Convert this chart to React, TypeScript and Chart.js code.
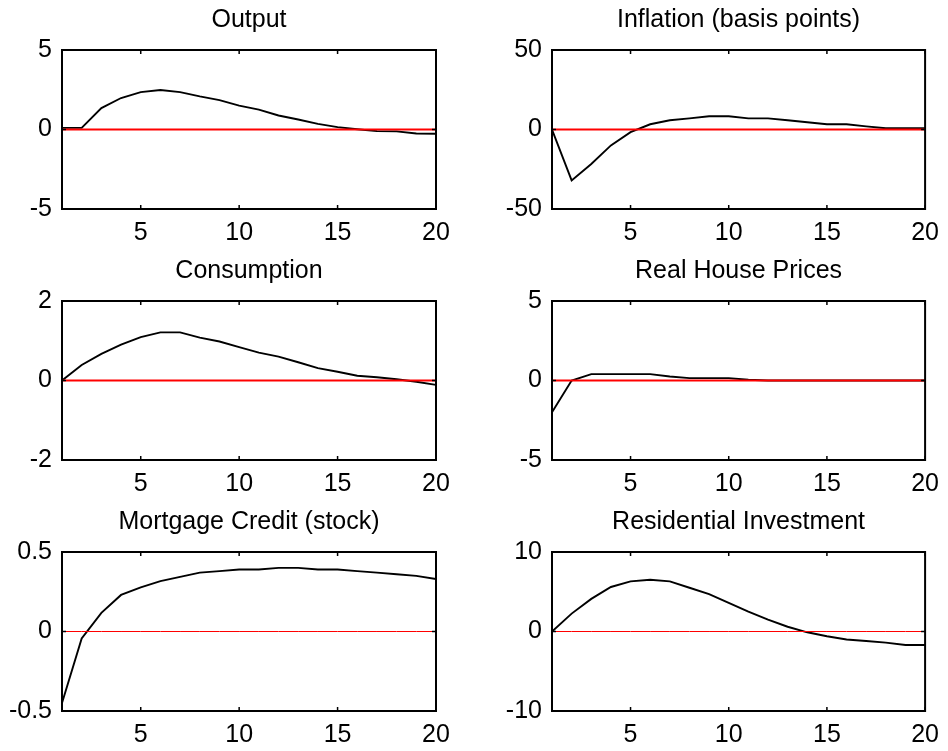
import React, { useEffect, useRef } from "react";
import { Chart, registerables } from "chart.js";

Chart.register(...registerables);

// ---- data ----
const periods = [1, 2, 3, 4, 5, 6, 7, 8, 9, 10, 11, 12, 13, 14, 15, 16, 17, 18, 19, 20];
const xTickValues = [5, 10, 15, 20];

const outputVals = [0.1, 0.1, 1.35, 1.98, 2.35, 2.48, 2.35, 2.08, 1.85, 1.5, 1.25, 0.88, 0.63, 0.35, 0.15, 0.02, -0.1, -0.12, -0.25, -0.27];
const inflationVals = [0, -32, -21.7, -10, -1.7, 3.3, 5.8, 7, 8.3, 8.3, 7, 7, 5.8, 4.6, 3.3, 3.3, 2, 0.8, 0.8, 0.8];
const consumptionVals = [0, 0.39, 0.67, 0.9, 1.09, 1.21, 1.21, 1.08, 0.98, 0.84, 0.7, 0.6, 0.46, 0.31, 0.22, 0.12, 0.08, 0.03, -0.03, -0.11];
const housePriceVals = [-2.0, 0.0, 0.4, 0.4, 0.4, 0.4, 0.25, 0.15, 0.15, 0.15, 0.05, 0, 0, 0, 0, 0, 0, 0, 0, 0];
const mortgageVals = [-0.45, -0.044, 0.117, 0.23, 0.277, 0.317, 0.344, 0.37, 0.38, 0.39, 0.39, 0.4, 0.4, 0.39, 0.39, 0.38, 0.37, 0.36, 0.35, 0.33];
const resInvVals = [0, 2.25, 4.1, 5.6, 6.3, 6.5, 6.3, 5.5, 4.7, 3.6, 2.5, 1.5, 0.6, -0.1, -0.6, -1.0, -1.2, -1.4, -1.7, -1.7];

const titles = [
  "Output",
  "Inflation (basis points)",
  "Consumption",
  "Real House Prices",
  "Mortgage Credit (stock)",
  "Residential Investment",
];
const yLimits = [5, 50, 2, 5, 0.5, 10];
const seriesList = [outputVals, inflationVals, consumptionVals, housePriceVals, mortgageVals, resInvVals];
const zeroLineWidths = [2, 2, 2, 2, 1, 1];

const FONT_FAMILY = "'Liberation Sans', Arial, Helvetica, sans-serif";
const FONT_SIZE = 25;

const framePlugin = {
  id: "frameTicks",
  afterDatasetsDraw(chart: any) {
    const { ctx, chartArea: a, scales } = chart;
    const x = scales.x;
    const y = scales.y;
    ctx.save();
    ctx.strokeStyle = "#000";
    ctx.lineWidth = 2;
    ctx.strokeRect(a.left, a.top, a.right - a.left, a.bottom - a.top);
    ctx.lineWidth = 1.5;
    ctx.beginPath();
    const tl = 4;
    x.ticks.forEach((t: any) => {
      const px = x.getPixelForValue(t.value);
      ctx.moveTo(px, a.top);
      ctx.lineTo(px, a.top + tl);
      ctx.moveTo(px, a.bottom);
      ctx.lineTo(px, a.bottom - tl);
    });
    y.ticks.forEach((t: any) => {
      const py = y.getPixelForValue(t.value);
      ctx.moveTo(a.left, py);
      ctx.lineTo(a.left + tl, py);
      ctx.moveTo(a.right, py);
      ctx.lineTo(a.right - tl, py);
    });
    ctx.stroke();
    ctx.restore();
  },
};

type PanelProps = { index: number; left: number; top: number };

const CANVAS_W = 474;
const CANVAS_H = 250;

function Panel({ index, left, top }: PanelProps) {
  const ref = useRef<HTMLCanvasElement | null>(null);
  useEffect(() => {
    if (!ref.current) return;
    const isLeft = index % 2 === 0;
    const lim = yLimits[index];
    const vals = seriesList[index];
    const chart = new Chart(ref.current, {
      type: "line",
      data: {
        datasets: [
          {
            data: periods.map((p) => ({ x: p, y: 0 })),
            borderColor: "#ff0000",
            borderWidth: zeroLineWidths[index],
            pointRadius: 0,
            tension: 0,
          },
          {
            data: periods.map((p, i) => ({ x: p, y: vals[i] })),
            borderColor: "#000000",
            borderWidth: 1.9,
            pointRadius: 0,
            tension: 0,
          },
        ],
      },
      options: {
        responsive: false,
        animation: false,
        events: [],
        layout: { padding: { left: 0, right: isLeft ? 38 : 20, top: 0, bottom: 0 } },
        plugins: {
          legend: { display: false },
          tooltip: { enabled: false },
          title: {
            display: true,
            text: titles[index],
            fullSize: false,
            color: "#000",
            font: { family: FONT_FAMILY, size: FONT_SIZE, weight: "normal", lineHeight: 1.2 },
            padding: { top: 5.5, bottom: 14.5 },
          },
        },
        scales: {
          x: {
            type: "linear",
            min: 1,
            max: 20,
            grid: { display: false, drawTicks: false },
            border: { display: false },
            ticks: {
              color: "#000",
              padding: 9,
              maxRotation: 0,
              autoSkip: false,
              font: { family: FONT_FAMILY, size: FONT_SIZE, lineHeight: 1.2 },
              callback: (v: any) => String(v),
            },
            afterBuildTicks: (s: any) => {
              s.ticks = xTickValues.map((v) => ({ value: v }));
            },
            afterFit: (s: any) => {
              s.height = 41;
            },
          },
          y: {
            type: "linear",
            min: -lim,
            max: lim,
            grid: { display: false, drawTicks: false },
            border: { display: false },
            ticks: {
              color: "#000",
              padding: 10,
              autoSkip: false,
              font: { family: FONT_FAMILY, size: FONT_SIZE, lineHeight: 1.2 },
              callback: (v: any) => String(v),
            },
            afterBuildTicks: (s: any) => {
              s.ticks = [-lim, 0, lim].map((v) => ({ value: v }));
            },
            afterFit: (s: any) => {
              s.width = isLeft ? 62 : 78;
            },
          },
        },
      },
      plugins: [framePlugin],
    } as any);
    return () => chart.destroy();
  }, [index]);
  return (
    <canvas
      ref={ref}
      width={CANVAS_W}
      height={CANVAS_H}
      style={{ position: "absolute", left, top, width: CANVAS_W, height: CANVAS_H }}
    />
  );
}

const rowTops = [0, 251, 502];
const colLefts = [0, 474];

export default function App() {
  return (
    <div
      style={{
        position: "absolute",
        left: 0,
        top: 0,
        width: 948,
        height: 751,
        overflow: "hidden",
        background: "#fff",
      }}
    >
      {titles.map((_, i) => (
        <Panel key={i} index={i} left={colLefts[i % 2]} top={rowTops[Math.floor(i / 2)]} />
      ))}
    </div>
  );
}
